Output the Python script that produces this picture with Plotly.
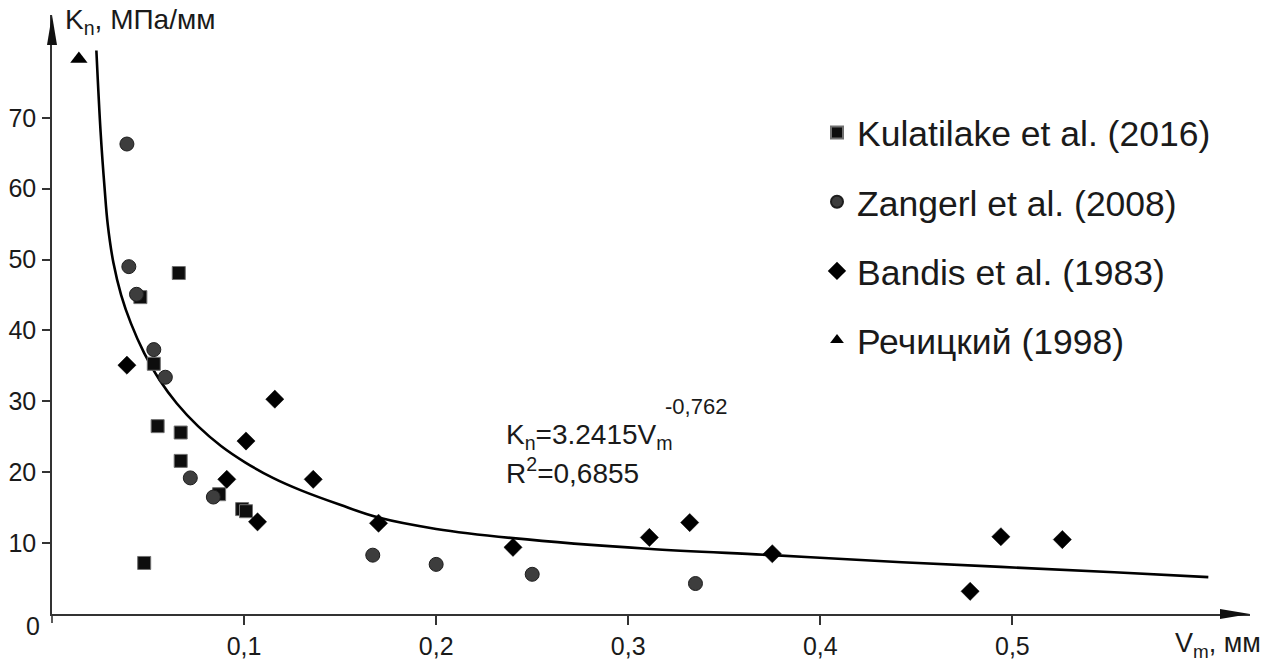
import plotly.graph_objects as go

# ---------------- data ----------------
kul_v = [0.066, 0.046, 0.053, 0.055, 0.067, 0.067, 0.087, 0.099, 0.101, 0.048]
kul_k = [48.1, 44.7, 35.3, 26.5, 25.6, 21.6, 16.9, 14.8, 14.5, 7.2]

zan_v = [0.039, 0.040, 0.044, 0.053, 0.059, 0.072, 0.084, 0.167, 0.200, 0.250, 0.335]
zan_k = [66.3, 49.0, 45.1, 37.3, 33.4, 19.2, 16.5, 8.3, 7.0, 5.6, 4.3]

ban_v = [0.039, 0.116, 0.101, 0.091, 0.107, 0.136, 0.170, 0.240, 0.311, 0.332, 0.375, 0.478, 0.494, 0.526]
ban_k = [35.1, 30.3, 24.4, 19.0, 13.0, 19.0, 12.8, 9.4, 10.8, 12.9, 8.5, 3.2, 10.9, 10.5]

rech_v = [0.014]
rech_k = [78.3]

# trend line as drawn in the reference
fit_v = [0.0231, 0.0253, 0.0274, 0.0290, 0.0320, 0.0360, 0.0411, 0.0480, 0.0560,
         0.0650, 0.0760, 0.0880, 0.1005, 0.1150, 0.1300, 0.1500, 0.1700, 0.2000,
         0.2400, 0.3100, 0.3750, 0.4425, 0.5530, 0.6020]
fit_k = [79.5, 68.0, 60.0, 55.0, 49.5, 45.0, 41.0, 36.8, 33.0,
         29.7, 26.5, 23.7, 21.4, 19.2, 17.4, 15.4, 13.6, 12.0,
         10.7, 9.2, 8.3, 7.3, 5.9, 5.2]

x_tickvals = [0.1, 0.2, 0.3, 0.4, 0.5]
x_ticktext = ["0,1", "0,2", "0,3", "0,4", "0,5"]
y_tickvals = [10, 20, 30, 40, 50, 60, 70]
y_ticktext = ["10", "20", "30", "40", "50", "60", "70"]

names = ["Kulatilake et al. (2016)", "Zangerl et al. (2008)",
         "Bandis et al. (1983)", "Речицкий (1998)"]

# ---------------- layout geometry ----------------
W, H = 1278, 664
ML, MR, MT, MB = 52, 28, 15, 50
PW, PH = W - ML - MR, H - MT - MB
X_RANGE = [0, 0.6237]
Y_RANGE = [0, 84.5]
FONT = "Liberation Sans, Arial, sans-serif"
INK = "#1a1a1a"


def px(xp):
    return (xp - ML) / PW


def py(yp):
    return (H - MB - yp) / PH


fig = go.Figure()

fig.add_trace(go.Scatter(x=fit_v, y=fit_k, mode="lines",
                         line=dict(color="black", width=2.6, shape="spline", smoothing=1.0),
                         showlegend=False, hoverinfo="skip"))

fig.add_trace(go.Scatter(x=kul_v, y=kul_k, mode="markers", name=names[0], legendgroup="a",
                         marker=dict(symbol="square", size=13, color="#0d0d0d",
                                     line=dict(color="#707070", width=1))))
fig.add_trace(go.Scatter(x=zan_v, y=zan_k, mode="markers", name=names[1], legendgroup="b",
                         marker=dict(symbol="circle", size=14, color="#3d3d3d",
                                     line=dict(color="#1e1e1e", width=1))))
fig.add_trace(go.Scatter(x=ban_v, y=ban_k, mode="markers", name=names[2], legendgroup="c",
                         marker=dict(symbol="diamond", size=14, color="#000000",
                                     line=dict(color="#000000", width=0.5))))
fig.add_trace(go.Scatter(x=rech_v, y=rech_k, mode="markers", name=names[3], legendgroup="d",
                         marker=dict(symbol="triangle-up", size=15, color="#000000")))

axis_common = dict(showgrid=False, zeroline=False, showline=True, linecolor="#333333",
                   linewidth=1.6, ticks="outside", tickcolor="#333333", tickwidth=1.5,
                   automargin=False,
                   tickfont=dict(family=FONT, size=25, color=INK))

fig.update_xaxes(range=X_RANGE, tickvals=x_tickvals, ticktext=x_ticktext,
                 ticklen=9, **axis_common)
fig.update_yaxes(range=Y_RANGE, tickvals=y_tickvals, ticktext=y_ticktext,
                 ticklen=8, ticklabelstandoff=1, **axis_common)

# arrow heads on the axes
fig.add_shape(type="path", xref="paper", yref="paper", xsizemode="pixel", ysizemode="pixel",
              xanchor=1, yanchor=0, path="M 0 0 L -30 5 L -30 -5 Z",
              fillcolor="#111111", line=dict(width=0))
fig.add_shape(type="path", xref="paper", yref="paper", xsizemode="pixel", ysizemode="pixel",
              xanchor=0, yanchor=1, path="M 0 0 L -5 -30 L 5 -30 Z",
              fillcolor="#111111", line=dict(width=0))
# small extension of the y axis below the origin
fig.add_shape(type="line", xref="paper", yref="paper", xsizemode="pixel", ysizemode="pixel",
              xanchor=0, yanchor=0, x0=0, x1=0, y0=0, y1=-9,
              line=dict(color="#333333", width=1.6))

ann = []
ann.append(dict(text="0", x=px(33), y=py(626), xref="paper", yref="paper",
                xanchor="center", yanchor="middle",
                showarrow=False, font=dict(family=FONT, size=25, color=INK)))
ann.append(dict(text="K<sub>n</sub>, МПа/мм", x=px(63), y=py(22), xref="paper", yref="paper",
                xanchor="left", yanchor="middle", showarrow=False,
                font=dict(family=FONT, size=28, color=INK)))
ann.append(dict(text="V<sub>m</sub>, мм", x=px(1173), y=py(645), xref="paper", yref="paper",
                xanchor="left", yanchor="middle", showarrow=False,
                font=dict(family=FONT, size=27, color=INK)))
ann.append(dict(text="K<sub>n</sub>=3.2415V<sub>m</sub>", x=px(504), y=py(436),
                xref="paper", yref="paper", xanchor="left", yanchor="middle",
                showarrow=False, font=dict(family=FONT, size=28, color=INK)))
ann.append(dict(text="-0,762", x=px(663), y=py(406), xref="paper", yref="paper",
                xanchor="left", yanchor="middle", showarrow=False,
                font=dict(family=FONT, size=22, color=INK)))
ann.append(dict(text="R<sup>2</sup>=0,6855", x=px(504), y=py(471), xref="paper", yref="paper",
                xanchor="left", yanchor="middle", showarrow=False,
                font=dict(family=FONT, size=28, color=INK)))

fig.update_layout(
    width=W, height=H,
    margin=dict(l=ML, r=MR, t=MT, b=MB, pad=0, autoexpand=False),
    paper_bgcolor="white", plot_bgcolor="white",
    showlegend=True,
    legend=dict(x=px(817), y=py(103), xanchor="left", yanchor="top",
                font=dict(family=FONT, size=35.5, color=INK),
                traceorder="grouped", tracegroupgap=20, itemsizing="constant",
                bgcolor="rgba(0,0,0,0)", borderwidth=0),
    annotations=ann,
)

fig.write_html("out.html")
